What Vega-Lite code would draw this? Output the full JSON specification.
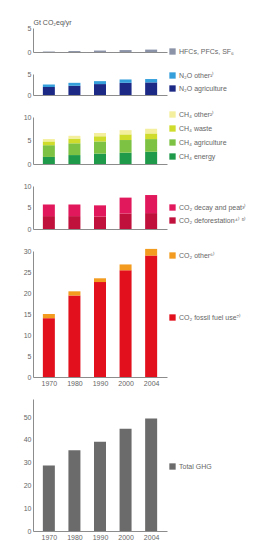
{
  "$schema": "https://vega.github.io/schema/vega-lite/v6.json",
  "background": "white",
  "padding": {"left": 23, "top": 18, "right": 0, "bottom": 0},
  "config": {
    "view": {"stroke": null},
    "font": "Liberation Sans",
    "axis": {"grid": false, "labelFontSize": 7, "labelColor": "#666", "domainColor": "#8c8c8c", "ticks": false, "labelPadding": 2, "titleFontSize": 7, "titleFontWeight": "normal", "titleColor": "#555"},
    "legend": {"labelFontSize": 7, "labelColor": "#666", "symbolType": "square", "symbolSize": 40, "symbolStrokeWidth": 0, "rowPadding": 5, "labelOffset": 3, "title": null, "padding": 0}
  },
  "datasets": {
    "fgas": [
      {"year": "1970", "component": "HFCs, PFCs, SF₆", "value": 0.1, "k": 1},
      {"year": "1980", "component": "HFCs, PFCs, SF₆", "value": 0.2, "k": 1},
      {"year": "1990", "component": "HFCs, PFCs, SF₆", "value": 0.3, "k": 1},
      {"year": "2000", "component": "HFCs, PFCs, SF₆", "value": 0.4, "k": 1},
      {"year": "2004", "component": "HFCs, PFCs, SF₆", "value": 0.5, "k": 1}
    ],
    "n2o": [
      {"year": "1970", "component": "N₂O agriculture", "value": 1.9, "k": 1},
      {"year": "1970", "component": "N₂O other¹⁾", "value": 0.6, "k": 2},
      {"year": "1980", "component": "N₂O agriculture", "value": 2.2, "k": 1},
      {"year": "1980", "component": "N₂O other¹⁾", "value": 0.7, "k": 2},
      {"year": "1990", "component": "N₂O agriculture", "value": 2.6, "k": 1},
      {"year": "1990", "component": "N₂O other¹⁾", "value": 0.7, "k": 2},
      {"year": "2000", "component": "N₂O agriculture", "value": 2.9, "k": 1},
      {"year": "2000", "component": "N₂O other¹⁾", "value": 0.8, "k": 2},
      {"year": "2004", "component": "N₂O agriculture", "value": 3.0, "k": 1},
      {"year": "2004", "component": "N₂O other¹⁾", "value": 0.8, "k": 2}
    ],
    "ch4": [
      {"year": "1970", "component": "CH₄ energy", "value": 1.5, "k": 1},
      {"year": "1970", "component": "CH₄ agriculture", "value": 2.5, "k": 2},
      {"year": "1970", "component": "CH₄ waste", "value": 0.8, "k": 3},
      {"year": "1970", "component": "CH₄ other²⁾", "value": 0.5, "k": 4},
      {"year": "1980", "component": "CH₄ energy", "value": 1.9, "k": 1},
      {"year": "1980", "component": "CH₄ agriculture", "value": 2.5, "k": 2},
      {"year": "1980", "component": "CH₄ waste", "value": 1.0, "k": 3},
      {"year": "1980", "component": "CH₄ other²⁾", "value": 0.6, "k": 4},
      {"year": "1990", "component": "CH₄ energy", "value": 2.2, "k": 1},
      {"year": "1990", "component": "CH₄ agriculture", "value": 2.6, "k": 2},
      {"year": "1990", "component": "CH₄ waste", "value": 1.1, "k": 3},
      {"year": "1990", "component": "CH₄ other²⁾", "value": 0.7, "k": 4},
      {"year": "2000", "component": "CH₄ energy", "value": 2.4, "k": 1},
      {"year": "2000", "component": "CH₄ agriculture", "value": 2.7, "k": 2},
      {"year": "2000", "component": "CH₄ waste", "value": 1.2, "k": 3},
      {"year": "2000", "component": "CH₄ other²⁾", "value": 0.9, "k": 4},
      {"year": "2004", "component": "CH₄ energy", "value": 2.6, "k": 1},
      {"year": "2004", "component": "CH₄ agriculture", "value": 2.7, "k": 2},
      {"year": "2004", "component": "CH₄ waste", "value": 1.2, "k": 3},
      {"year": "2004", "component": "CH₄ other²⁾", "value": 1.0, "k": 4}
    ],
    "co2land": [
      {"year": "1970", "component": "CO₂ deforestation⁴⁾ ⁵⁾", "value": 3.0, "k": 1},
      {"year": "1970", "component": "CO₂ decay and peat³⁾", "value": 2.7, "k": 2},
      {"year": "1980", "component": "CO₂ deforestation⁴⁾ ⁵⁾", "value": 3.0, "k": 1},
      {"year": "1980", "component": "CO₂ decay and peat³⁾", "value": 2.7, "k": 2},
      {"year": "1990", "component": "CO₂ deforestation⁴⁾ ⁵⁾", "value": 2.9, "k": 1},
      {"year": "1990", "component": "CO₂ decay and peat³⁾", "value": 2.6, "k": 2},
      {"year": "2000", "component": "CO₂ deforestation⁴⁾ ⁵⁾", "value": 3.6, "k": 1},
      {"year": "2000", "component": "CO₂ decay and peat³⁾", "value": 3.7, "k": 2},
      {"year": "2004", "component": "CO₂ deforestation⁴⁾ ⁵⁾", "value": 3.7, "k": 1},
      {"year": "2004", "component": "CO₂ decay and peat³⁾", "value": 4.2, "k": 2}
    ],
    "co2fossil": [
      {"year": "1970", "component": "CO₂ fossil fuel use⁷⁾", "value": 14.0, "k": 1},
      {"year": "1970", "component": "CO₂ other⁶⁾", "value": 1.0, "k": 2},
      {"year": "1980", "component": "CO₂ fossil fuel use⁷⁾", "value": 19.4, "k": 1},
      {"year": "1980", "component": "CO₂ other⁶⁾", "value": 1.0, "k": 2},
      {"year": "1990", "component": "CO₂ fossil fuel use⁷⁾", "value": 22.6, "k": 1},
      {"year": "1990", "component": "CO₂ other⁶⁾", "value": 0.9, "k": 2},
      {"year": "2000", "component": "CO₂ fossil fuel use⁷⁾", "value": 25.4, "k": 1},
      {"year": "2000", "component": "CO₂ other⁶⁾", "value": 1.4, "k": 2},
      {"year": "2004", "component": "CO₂ fossil fuel use⁷⁾", "value": 28.9, "k": 1},
      {"year": "2004", "component": "CO₂ other⁶⁾", "value": 1.6, "k": 2}
    ],
    "total": [
      {"year": "1970", "component": "Total GHG", "value": 28.8, "k": 1},
      {"year": "1980", "component": "Total GHG", "value": 35.5, "k": 1},
      {"year": "1990", "component": "Total GHG", "value": 39.2, "k": 1},
      {"year": "2000", "component": "Total GHG", "value": 44.9, "k": 1},
      {"year": "2004", "component": "Total GHG", "value": 49.4, "k": 1}
    ]
  },
  "vconcat": [
    {
      "width": 134, "height": 24,
      "data": {"name": "fgas"},
      "mark": {"type": "bar", "width": 12},
      "encoding": {
        "x": {"field": "year", "type": "ordinal", "scale": {"type": "point", "padding": 0.62}, "axis": {"labels": false, "title": null}},
        "y": {"field": "value", "type": "quantitative", "scale": {"domain": [0, 5]}, "axis": {"values": [0, 5], "title": "Gt CO₂eq/yr", "titleAngle": 0, "titleAlign": "left", "titleBaseline": "bottom", "titleX": 0, "titleY": -3}},
        "color": {"field": "component", "type": "nominal", "scale": {"domain": ["HFCs, PFCs, SF₆"], "range": ["#8a93a8"]}, "legend": {"orient": "none", "legendX": 136, "legendY": 20}},
        "order": {"field": "k"}
      }
    },
    {
      "width": 134, "height": 21,
      "data": {"name": "n2o"},
      "mark": {"type": "bar", "width": 12},
      "encoding": {
        "x": {"field": "year", "type": "ordinal", "scale": {"type": "point", "padding": 0.62}, "axis": {"labels": false, "title": null}},
        "y": {"field": "value", "type": "quantitative", "scale": {"domain": [0, 5]}, "axis": {"values": [0, 5], "title": null}},
        "color": {"field": "component", "type": "nominal", "scale": {"domain": ["N₂O other¹⁾", "N₂O agriculture"], "range": ["#359fdb", "#1c2a86"]}, "legend": {"orient": "none", "legendX": 136, "legendY": -2}},
        "order": {"field": "k"}
      }
    },
    {
      "width": 134, "height": 47,
      "data": {"name": "ch4"},
      "mark": {"type": "bar", "width": 12},
      "encoding": {
        "x": {"field": "year", "type": "ordinal", "scale": {"type": "point", "padding": 0.62}, "axis": {"labels": false, "title": null}},
        "y": {"field": "value", "type": "quantitative", "scale": {"domain": [0, 10]}, "axis": {"values": [0, 5, 10], "title": null}},
        "color": {"field": "component", "type": "nominal", "scale": {"domain": ["CH₄ other²⁾", "CH₄ waste", "CH₄ agriculture", "CH₄ energy"], "range": ["#f3ef9c", "#cfdc2c", "#7dc243", "#1f9a4b"]}, "legend": {"orient": "none", "legendX": 136, "legendY": -6, "rowPadding": 6}},
        "order": {"field": "k"}
      }
    },
    {
      "width": 134, "height": 43,
      "data": {"name": "co2land"},
      "mark": {"type": "bar", "width": 12},
      "encoding": {
        "x": {"field": "year", "type": "ordinal", "scale": {"type": "point", "padding": 0.62}, "axis": {"labels": false, "title": null}},
        "y": {"field": "value", "type": "quantitative", "scale": {"domain": [0, 10]}, "axis": {"values": [0, 5, 10], "title": null}},
        "color": {"field": "component", "type": "nominal", "scale": {"domain": ["CO₂ decay and peat³⁾", "CO₂ deforestation⁴⁾ ⁵⁾"], "range": ["#e2185c", "#c0103c"]}, "legend": {"orient": "none", "legendX": 136, "legendY": 18}},
        "order": {"field": "k"}
      }
    },
    {
      "width": 134, "height": 126,
      "data": {"name": "co2fossil"},
      "mark": {"type": "bar", "width": 12},
      "encoding": {
        "x": {"field": "year", "type": "ordinal", "scale": {"type": "point", "padding": 0.62}, "axis": {"title": null, "labelAngle": 0}},
        "y": {"field": "value", "type": "quantitative", "scale": {"domain": [0, 30]}, "axis": {"values": [0, 5, 10, 15, 20, 25, 30], "title": null}},
        "color": {"field": "component", "type": "nominal", "scale": {"domain": ["CO₂ other⁶⁾", "CO₂ fossil fuel use⁷⁾"], "range": ["#f29b1f", "#e2101c"]}, "legend": {"orient": "none", "legendX": 136, "legendY": 1, "rowPadding": 54}},
        "order": {"field": "k"}
      }
    },
    {
      "width": 134, "height": 132,
      "data": {"name": "total"},
      "mark": {"type": "bar", "width": 12},
      "encoding": {
        "x": {"field": "year", "type": "ordinal", "scale": {"type": "point", "padding": 0.62}, "axis": {"title": null, "labelAngle": 0}},
        "y": {"field": "value", "type": "quantitative", "scale": {"domain": [0, 58], "nice": false}, "axis": {"values": [0, 10, 20, 30, 40, 50], "title": null}},
        "color": {"field": "component", "type": "nominal", "scale": {"domain": ["Total GHG"], "range": ["#6b6b6b"]}, "legend": {"orient": "none", "legendX": 136, "legendY": 64}},
        "order": {"field": "k"}
      }
    }
  ],
  "resolve": {"scale": {"y": "independent", "color": "independent"}, "legend": {"color": "independent"}},
  "spacing": 22,
  "bounds": "flush"
}
